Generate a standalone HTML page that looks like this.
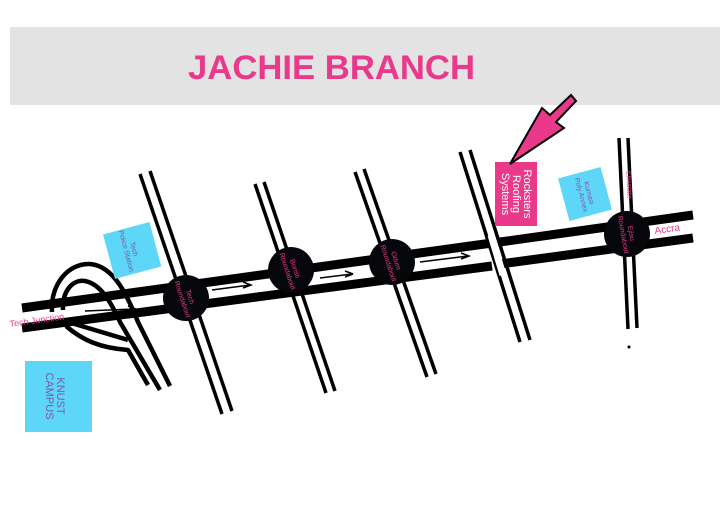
<!DOCTYPE html><html><head><style>body{margin:0;background:#fff;width:720px;height:524px;overflow:hidden;font-family:"Liberation Sans",sans-serif}</style></head><body>
<svg width="720" height="524" viewBox="0 0 720 524" xmlns="http://www.w3.org/2000/svg" font-family="Liberation Sans, sans-serif">
<rect x="10" y="27" width="710" height="78" fill="#e3e3e3"/>
<text x="188" y="79" font-size="34" font-weight="bold" fill="#e8398a" textLength="287" lengthAdjust="spacingAndGlyphs">JACHIE BRANCH</text>
<!-- cross roads -->
<g stroke="#000" stroke-width="3.5" fill="none">
<line x1="140" y1="174" x2="222" y2="414"/><line x1="150" y1="171" x2="232" y2="411"/>
<line x1="255" y1="184" x2="326" y2="393"/><line x1="264" y1="182" x2="335" y2="391"/>
<line x1="355" y1="172" x2="427" y2="377"/><line x1="364" y1="169" x2="436" y2="374"/>
<line x1="460" y1="152" x2="520" y2="342"/><line x1="470" y1="150" x2="530" y2="340"/>
<line x1="619" y1="138" x2="628" y2="329"/><line x1="628" y1="138" x2="637" y2="328"/>
</g>
<!-- ramps -->
<g stroke="#000" stroke-width="4.5" fill="none" stroke-linejoin="round">
<path d="M52 312 C50 285 68 263 90 264 C115 266 128 298 138 322 L170 386"/>
<path d="M63 310 C62 292 72 279 85 281 C100 284 110 300 120 322 L160 390"/>
<path d="M68 322 L128 340"/>
<path d="M66 326 C82 340 100 348 128 350 L148 385"/>
</g>
<!-- main road -->
<g stroke="#000" stroke-width="9">
<line x1="22" y1="308" x2="492" y2="243"/><line x1="22" y1="328" x2="492" y2="266"/>
<line x1="500" y1="242" x2="693" y2="215"/><line x1="500" y1="264" x2="693" y2="238"/>
</g>
<line x1="491" y1="235" x2="503" y2="275" stroke="#fff" stroke-width="7"/>
<!-- arrows -->
<g stroke="#000" stroke-width="1.5" fill="none">
<path d="M85 311 L135 309 M128 306 L136 309 L128 312"/>
<path d="M212 290 L250 285 M243 282 L251 285 L243 288"/>
<path d="M320 278 L352 274 M345 271 L353 274 M345 277 L353 274"/>
<path d="M420 262 L468 256 M461 253 L469 256 L461 259"/>
</g>
<!-- roundabouts -->
<g fill="#05070a">
<circle cx="186" cy="298" r="23"/><circle cx="291" cy="270" r="23"/><circle cx="392" cy="262" r="23"/><circle cx="627" cy="234" r="23"/>
</g>
<g fill="#e8398a" font-size="7" text-anchor="middle">
<text transform="translate(186,298) rotate(72)"><tspan x="0" y="-2">Tech</tspan><tspan x="0" y="6">Roundabout</tspan></text>
<text transform="translate(291,270) rotate(72)"><tspan x="0" y="-2">Bonsti</tspan><tspan x="0" y="6">Roundabout</tspan></text>
<text transform="translate(392,262) rotate(72)"><tspan x="0" y="-2">Odum</tspan><tspan x="0" y="6">Roundabout</tspan></text>
<text transform="translate(627,234) rotate(80)"><tspan x="0" y="-2">Ejisu</tspan><tspan x="0" y="6">Roundabout</tspan></text>
<text transform="translate(627,185) rotate(88)" font-size="7">Ellisstate</text>
</g>
<text x="10" y="327" font-size="9" fill="#e8398a" transform="rotate(-8 10 327)">Tech Junction</text>
<text x="655" y="234" font-size="10" fill="#e8398a" transform="rotate(-8 655 234)">Accra</text>
<!-- boxes -->
<g transform="rotate(-15 130 250)"><rect x="108" y="228" width="48" height="46" fill="#5ed6f7"/>
<text transform="translate(130,250) rotate(90)" font-size="7" fill="#7a5aa8" text-anchor="middle"><tspan x="0" y="-2">Tech</tspan><tspan x="0" y="6">Police Station</tspan></text></g>
<rect x="25" y="361" width="67" height="71" fill="#5ed6f7"/>
<text transform="translate(55,396) rotate(90)" font-size="11" fill="#7a5aa8" text-anchor="middle"><tspan x="0" y="-2">KNUST</tspan><tspan x="0" y="9">CAMPUS</tspan></text>
<rect x="495" y="162" width="42" height="64" fill="#e8398a"/>
<text transform="translate(516,194) rotate(90)" font-size="11" fill="#fff" text-anchor="middle"><tspan x="0" y="-8">Rocksters</tspan><tspan x="0" y="3">Roofing</tspan><tspan x="0" y="14">Systems</tspan></text>
<g transform="rotate(-15 585 194)"><rect x="563" y="172" width="44" height="44" fill="#5ed6f7"/>
<text transform="translate(585,194) rotate(90)" font-size="7" fill="#7a5aa8" text-anchor="middle"><tspan x="0" y="-2">Kumasi</tspan><tspan x="0" y="6">Poly Annex</tspan></text></g>
<!-- pointer arrow -->
<polygon points="571,95 576,101 556,122 564,128 510,164 542,108 550,115" fill="#e8398a" stroke="#000" stroke-width="2"/>
<circle cx="629" cy="347" r="1.5" fill="#000"/>
</svg>
</body></html>
